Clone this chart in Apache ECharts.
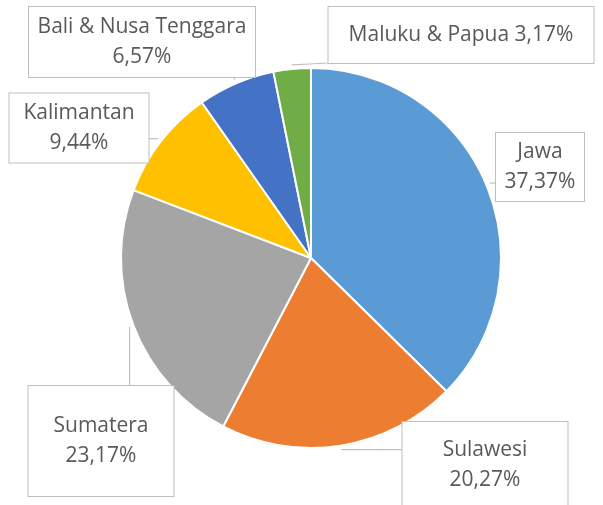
<!DOCTYPE html>
<html lang="en">
<head>
    <meta charset="UTF-8">
    <title>Pie</title>
    <style>
        html, body { margin: 0; padding: 0; background: #fff; }
        #chart { width: 603px; height: 505px; }
    </style>
    <script src="https://cdn.jsdelivr.net/npm/echarts@6/dist/echarts.min.js"></script>
</head>
<body>
<div id="chart"></div>
<script>
// data
var regions = ["Jawa", "Sulawesi", "Sumatera", "Kalimantan", "Bali & Nusa Tenggara", "Maluku & Papua"];
var shares = [37.37, 20.27, 23.17, 9.44, 6.57, 3.17];
var colors = ["#5B9BD5", "#ED7D31", "#A5A5A5", "#FFC000", "#4472C4", "#70AD47"];
var oneLine = [false, false, false, false, false, true];

// callout boxes: centre x, centre y, width, height
var boxes = [
    [540, 167, 90, 68],
    [485, 465, 167, 86],
    [101, 441, 147, 110],
    [79, 128, 141, 69],
    [142, 42, 228, 70],
    [461, 35, 267, 56]
];

var lh = 30;
var pieData = [];
for (var i = 0; i < regions.length; i++) {
    var lines = oneLine[i] ? 1 : 2;
    var pad = (boxes[i][3] - lines * lh) / 2;
    pieData.push({
        name: regions[i],
        value: shares[i],
        itemStyle: { color: colors[i] },
        label: { width: boxes[i][2] - 2, padding: [pad, 0, pad, 0] }
    });
}

function clamp(v, a, b) { return Math.max(a, Math.min(b, v)); }

var chart = echarts.init(document.getElementById("chart"));
chart.setOption({
    animation: false,
    series: [{
        type: "pie",
        center: [311, 258],
        radius: 190,
        startAngle: 90,
        clockwise: true,
        data: pieData,
        itemStyle: { borderColor: "#fff", borderWidth: 2 },
        label: {
            position: "outside",
            fontFamily: "Open Sans",
            fontSize: 21,
            lineHeight: lh,
            color: "#595959",
            backgroundColor: "#fff",
            borderColor: "#BFBFBF",
            borderWidth: 1,
            align: "center",
            formatter: function (p) {
                var v = p.value.toFixed(2).replace(".", ",") + "%";
                return oneLine[p.dataIndex] ? p.name + " " + v : p.name + "\n" + v;
            }
        },
        labelLine: {
            show: true,
            length: 10,
            length2: 10,
            lineStyle: { color: "#BFBFBF", width: 1.2 }
        },
        labelLayout: function (params) {
            var b = boxes[params.dataIndex];
            var p0 = params.labelLinePoints[0];
            // push the tip a few px out of the slice
            var dx = p0[0] - 311, dy = p0[1] - 258;
            var d = Math.sqrt(dx * dx + dy * dy);
            var tip = [311 + dx * (d + 4) / d, 258 + dy * (d + 4) / d];
            var x0 = b[0] - b[2] / 2, y0 = b[1] - b[3] / 2;
            var end = [clamp(tip[0], x0, x0 + b[2]), clamp(tip[1], y0, y0 + b[3])];
            var mid = [(tip[0] + end[0]) / 2, (tip[1] + end[1]) / 2];
            return {
                x: b[0], y: b[1], align: "center", verticalAlign: "middle",
                labelLinePoints: [tip, mid, end]
            };
        }
    }]
});
</script>
</body>
</html>
